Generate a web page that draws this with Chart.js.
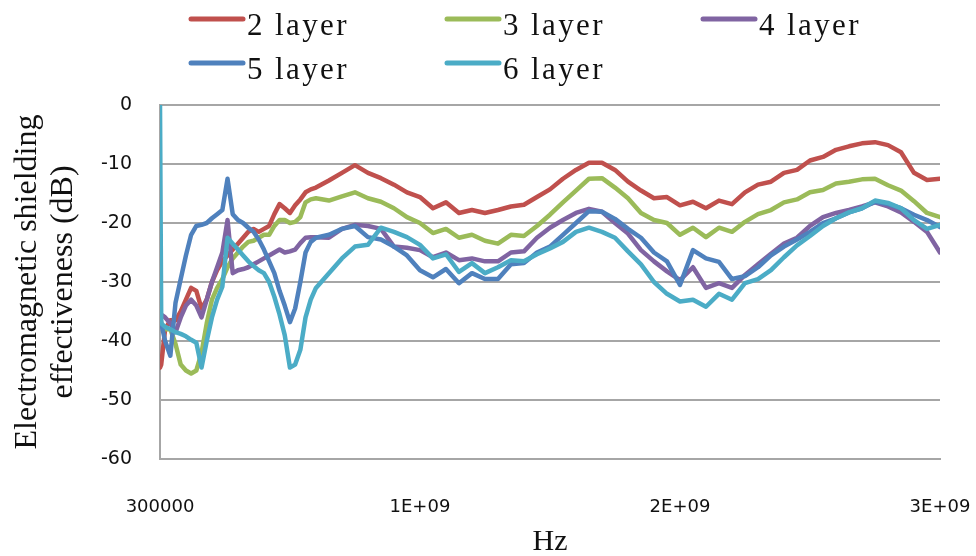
<!DOCTYPE html>
<html>
<head>
<meta charset="utf-8">
<title>Electromagnetic shielding effectiveness</title>
<script src="https://cdn.jsdelivr.net/npm/chart.js@4/dist/chart.umd.min.js"></script>
<style>
  html, body { margin: 0; padding: 0; background: #fff; }
  #wrap { width: 976px; height: 556px; }
</style>
</head>
<body>
<div id="wrap"><canvas id="c" width="976" height="556"></canvas></div>
<script>
// Measurement frequencies in MHz (swept from 300 kHz to 3 GHz)
const freqMHz = [
  0.3, 5,
  20, 40, 60, 80, 100, 120, 140, 160, 180, 200,
  220, 240, 260, 280, 300, 320, 340, 360, 380, 400,
  420, 440, 460, 480, 500, 520, 540, 560, 580, 600,
  650, 700, 750, 800, 850, 900, 950, 1000, 1050, 1100,
  1150, 1200, 1250, 1300, 1350, 1400, 1450, 1500, 1550, 1600,
  1650, 1700, 1750, 1800, 1850, 1900, 1950, 2000, 2050, 2100,
  2150, 2200, 2250, 2300, 2350, 2400, 2450, 2500, 2550, 2600,
  2650, 2700, 2750, 2800, 2850, 2900, 2950, 3000
];

const seriesNames = ['2 layer', '3 layer', '4 layer', '5 layer', '6 layer'];
const seriesColors = ['#C0504D', '#9BBB59', '#8064A2', '#4F81BD', '#4BACC6'];

// Shielding effectiveness (dB) for each number of layers
const layer2 = [
  -44.5, -44,
  -38, -36.5, -36.5, -35, -33, -31, -31.5, -34.5, -33, -30,
  -28, -26.5, -25.5, -24.5, -23.5, -22.5, -21.5, -21, -21.5, -21,
  -20.5, -18.5, -16.8, -17.5, -18.3, -17, -16, -14.8, -14.3, -14,
  -12.8, -11.5, -10.2, -11.5, -12.4, -13.5, -14.8, -15.6, -17.5, -16.5,
  -18.3, -17.8, -18.3, -17.8, -17.2, -16.9, -15.6, -14.3, -12.5, -11,
  -9.8, -9.8, -11, -13, -14.5, -15.8, -15.6, -17, -16.4, -17.5,
  -16.2, -16.8, -14.8, -13.5, -13, -11.5, -11, -9.4, -8.8, -7.6,
  -7, -6.5, -6.3, -6.8, -8, -11.5, -12.7, -12.5
];
const layer3 = [
  -36, -37,
  -38, -38, -40.5, -44, -45, -45.5, -45, -42, -37, -33,
  -31, -29.5, -27.5, -26, -25, -24, -23.2, -23, -22.5, -22,
  -22, -20.5, -19.5, -19.5, -20, -19.8, -19, -16.5, -16, -15.8,
  -16.2, -15.5, -14.8, -15.8, -16.4, -17.5, -19, -20, -21.7, -21,
  -22.5, -22, -23, -23.5, -22, -22.2, -20.5, -18.6, -16.5, -14.5,
  -12.5, -12.4, -14, -15.8, -18.3, -19.5, -20, -22, -20.8, -22.4,
  -20.8, -21.5, -19.8, -18.5, -17.8, -16.5, -16, -14.8, -14.4, -13.3,
  -13, -12.6, -12.5, -13.6, -14.5, -16.3, -18.3, -19
];
const layer4 = [
  -35, -35.5,
  -36, -37, -38.5, -36, -34, -33, -34, -36, -33, -30,
  -27.5, -25, -19.5, -28.5, -28, -27.8, -27.5, -27, -26.5, -26,
  -25.5, -25, -24.5, -25, -24.8, -24.5, -23.4, -22.5, -22.4, -22.4,
  -22.5, -21, -20.3, -20.5, -21, -24, -24.2, -24.6, -25.8, -25,
  -26.3, -26, -26.5, -26.5, -25, -24.8, -22.5, -20.8, -19.5, -18.3,
  -17.6, -18.1, -20, -21.8, -24.6, -26.5, -28.2, -29.7, -27.5, -31,
  -30.2, -31, -28.8, -27, -25.2, -23.5, -22.5, -20.5, -19, -18.3,
  -17.8, -17.2, -16.5, -17.2, -18.2, -19.8, -21.5, -25
];
const layer5 = [
  -35, -37,
  -40, -42.5, -33.5, -29.5, -25.5, -22, -20.5, -20.3, -20, -19.2,
  -18.5, -17.8, -12.5, -18.5, -19.5, -20, -20.8, -21.5, -22.8, -24.5,
  -26.5, -28.5, -31.5, -34, -36.8, -34.5, -30, -25, -23.2, -22.5,
  -22, -21, -20.5, -22.4, -22.8, -24, -25.5, -28, -29.2, -27.8,
  -30.2, -28.5, -29.5, -29.5, -27, -26.8, -25, -24, -22, -20,
  -18, -18.1, -19.3, -21, -22.5, -25, -26.5, -30.5, -24.6, -26,
  -26.6, -29.5, -29, -27.5, -25.5, -24, -22.8, -21.5, -20, -19.2,
  -18.2, -17.5, -16.4, -16.8, -17.5, -18.6, -19.5, -20.7
];
const layer6 = [
  0, -37,
  -37.6, -38, -38.5, -38.8, -39.2, -39.8, -40.3, -44.5, -40, -36,
  -33, -30.8, -22.5, -23.5, -24.5, -25.5, -26.5, -27.3, -28, -28.5,
  -30, -32.5, -35.5, -39, -44.5, -44, -41.5, -36, -33, -31,
  -28.5, -26, -24, -23.7, -20.8, -21.5, -22.4, -23.7, -26, -25.3,
  -28.3, -26.8, -28.5, -27.5, -26.3, -26.5, -25.3, -24.3, -23.2, -21.5,
  -20.8, -21.5, -22.5, -24.8, -27, -30, -32, -33.3, -33, -34.2,
  -32, -33, -30.2, -29.5, -28, -25.8, -23.8, -22.2, -20.5, -19.2,
  -18.2, -17.5, -16.2, -16.6, -17.5, -19.5, -21, -20.3
];
const seriesValues = [layer2, layer3, layer4, layer5, layer6];

// Axis tick values and their printed labels
const xTickValues = [300000, 1e9, 2e9, 3e9];
const xTickLabels = ['300000', '1E+09', '2E+09', '3E+09'];
const yTickValues = [0, -10, -20, -30, -40, -50, -60];

const freqHz = freqMHz.map(m => m * 1e6);

const datasets = seriesValues.map((vals, i) => ({
  label: seriesNames[i],
  data: vals.map((v, k) => ({ x: freqHz[k], y: v })),
  borderColor: seriesColors[i],
  backgroundColor: seriesColors[i],
  borderWidth: 4.5,
  borderJoinStyle: 'round',
  borderCapStyle: 'round',
  pointRadius: 0,
  tension: 0,
  fill: false,
  order: seriesValues.length - i   // later series are painted on top
}));

// Two-row legend: three entries per row, short line sample then the name
const layerLegend = {
  id: 'layerLegend',
  afterDraw(chart) {
    const ctx = chart.ctx;
    ctx.save();
    ctx.font = '31px "Liberation Serif", serif';
    ctx.textBaseline = 'alphabetic';
    ctx.textAlign = 'left';
    ctx.letterSpacing = '2.4px';
    chart.data.datasets.forEach((ds, i) => {
      const col = i % 3;
      const row = Math.floor(i / 3);
      const x = 189 + col * 256;
      const y = 19 + row * 44;
      ctx.strokeStyle = ds.borderColor;
      ctx.lineWidth = 5;
      ctx.lineCap = 'round';
      ctx.beginPath();
      ctx.moveTo(x + 2, y);
      ctx.lineTo(x + 54, y);
      ctx.stroke();
      ctx.fillStyle = '#111';
      ctx.fillText(ds.label, x + 58, y + 16);
    });
    ctx.restore();
  }
};

const gridGray = '#a6a6a6';

new Chart(document.getElementById('c'), {
  type: 'line',
  data: { datasets },
  options: {
    responsive: false,
    animation: false,
    devicePixelRatio: 1,
    layout: { padding: { top: 105, right: 36, bottom: 0, left: 0 } },
    plugins: {
      legend: { display: false },
      tooltip: { enabled: false }
    },
    scales: {
      x: {
        type: 'linear',
        min: 300000,
        max: 3e9,
        afterBuildTicks: scale => {
          scale.ticks = xTickValues.map(v => ({ value: v }));
        },
        afterFit: scale => {
          scale.height = 97;
          // the end labels may hang past the plot edges
          scale.paddingLeft = 0;
          scale.paddingRight = 0;
        },
        ticks: {
          autoSkip: false,
          maxRotation: 0,
          padding: 38,
          color: '#111',
          font: { family: '"DejaVu Sans", sans-serif', size: 18 },
          callback: (value, index) => xTickLabels[index]
        },
        grid: { display: false, drawTicks: false },
        border: { display: true, color: gridGray, width: 2 },
        title: {
          display: true,
          text: 'Hz',
          color: '#111',
          font: { family: '"Liberation Serif", serif', size: 30, lineHeight: 0.9 },
          padding: { top: 0, bottom: 0 }
        }
      },
      y: {
        min: -60,
        max: 0,
        afterBuildTicks: scale => {
          scale.ticks = yTickValues.map(v => ({ value: v }));
        },
        afterFit: scale => { scale.width = 160; },
        ticks: {
          padding: 28,
          color: '#111',
          font: { family: '"DejaVu Sans", sans-serif', size: 19 }
        },
        grid: { color: gridGray, lineWidth: 2, drawTicks: false },
        border: { display: true, color: gridGray, width: 2 },
        title: {
          display: true,
          text: ['Electromagnetic shielding', 'effectiveness (dB)'],
          color: '#111',
          font: { family: '"Liberation Serif", serif', size: 32, lineHeight: 1.125 },
          padding: { top: 10, bottom: 0 }
        }
      }
    }
  },
  plugins: [layerLegend]
});
</script>
</body>
</html>
